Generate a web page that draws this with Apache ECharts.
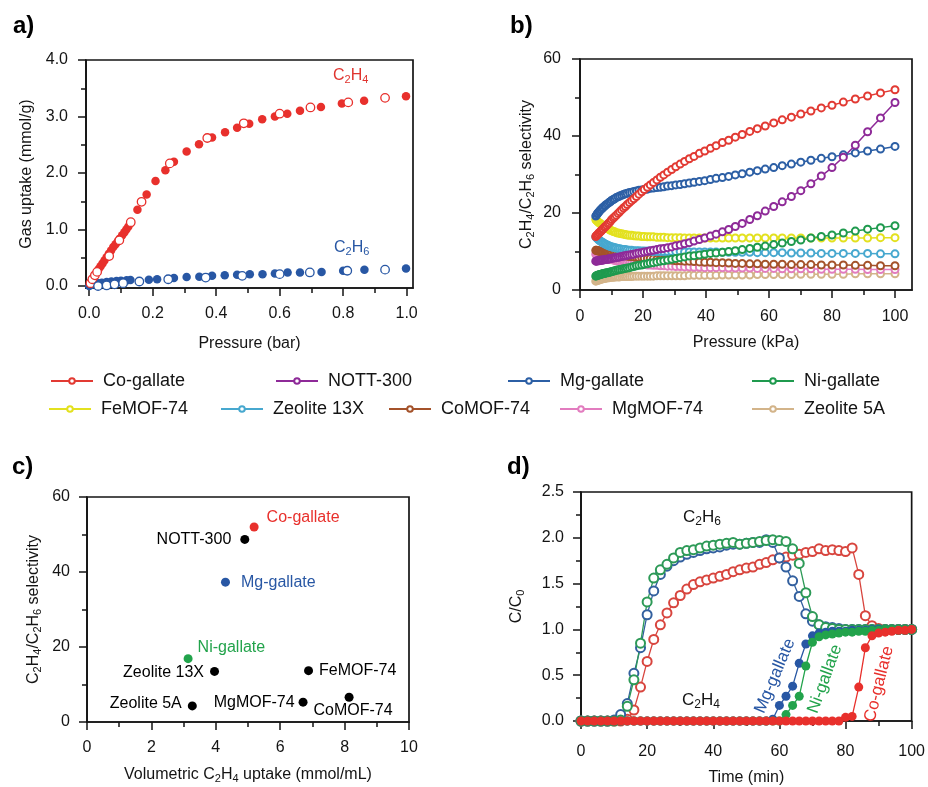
<!DOCTYPE html>
<html>
<head>
<meta charset="utf-8">
<title>Gallate frameworks: C2H4/C2H6 separation</title>
<script src="https://cdn.jsdelivr.net/npm/echarts@6/dist/echarts.min.js"></script>
<style>
  html, body { margin: 0; padding: 0; background: #ffffff; }
  #chart { width: 928px; height: 787px; }
</style>
</head>
<body>
<div id="chart"></div>
<script>
// ---------- a) Co-gallate single-component isotherms, [pressure (bar), uptake (mmol/g)] ----------
const c2h4Adsorption = [
  [0.003, 0.03], [0.008, 0.08], [0.013, 0.13], [0.018, 0.18], [0.024, 0.24], [0.030, 0.30],
  [0.036, 0.35], [0.042, 0.40], [0.048, 0.45], [0.055, 0.51], [0.062, 0.57], [0.069, 0.63],
  [0.076, 0.69], [0.083, 0.74], [0.090, 0.79], [0.097, 0.84], [0.104, 0.90], [0.111, 0.95],
  [0.117, 1.00], [0.123, 1.05], [0.129, 1.10], [0.152, 1.35], [0.181, 1.62], [0.209, 1.86],
  [0.240, 2.05], [0.267, 2.20], [0.307, 2.38], [0.346, 2.51], [0.387, 2.63], [0.428, 2.72],
  [0.466, 2.80], [0.504, 2.87], [0.545, 2.95], [0.585, 3.00], [0.624, 3.05], [0.664, 3.10],
  [0.730, 3.17], [0.796, 3.23], [0.866, 3.28], [0.998, 3.36]
];
const c2h4Desorption = [
  [0.004, 0.05], [0.010, 0.12], [0.018, 0.19], [0.025, 0.25], [0.063, 0.53], [0.095, 0.81],
  [0.131, 1.13], [0.165, 1.49], [0.254, 2.17], [0.372, 2.62], [0.487, 2.88], [0.600, 3.05],
  [0.697, 3.16], [0.816, 3.25], [0.932, 3.33]
];
const c2h6Adsorption = [
  [0.000, 0.00], [0.005, 0.02], [0.012, 0.03], [0.020, 0.04], [0.030, 0.05], [0.040, 0.06],
  [0.055, 0.07], [0.070, 0.08], [0.086, 0.09], [0.100, 0.095], [0.118, 0.10], [0.130, 0.105],
  [0.188, 0.11], [0.214, 0.12], [0.267, 0.14], [0.307, 0.16], [0.347, 0.165], [0.387, 0.18],
  [0.427, 0.19], [0.466, 0.20], [0.506, 0.21], [0.546, 0.21], [0.585, 0.22], [0.625, 0.24],
  [0.664, 0.24], [0.732, 0.25], [0.800, 0.27], [0.867, 0.29], [0.998, 0.31]
];
const c2h6Desorption = [
  [0.028, 0.00], [0.055, 0.01], [0.080, 0.03], [0.107, 0.05], [0.158, 0.08], [0.249, 0.12],
  [0.367, 0.15], [0.482, 0.18], [0.600, 0.21], [0.695, 0.24], [0.813, 0.27], [0.932, 0.29]
];

// ---------- b) IAST selectivity vs total pressure (kPa) ----------
const pressureKPa = [
  5.0, 5.2, 5.5, 5.7, 6.0, 6.2, 6.5, 6.8, 7.1, 7.4,
  7.8, 8.1, 8.5, 8.9, 9.3, 9.7, 10.1, 10.6, 11.0, 11.5,
  12.1, 12.6, 13.2, 13.8, 14.4, 15.0, 15.7, 16.4, 17.1, 17.9,
  18.7, 19.6, 20.4, 21.4, 22.3, 23.3, 24.4, 25.5, 26.6, 27.8,
  29.1, 30.4, 31.8, 33.2, 34.7, 36.2, 37.9, 39.6, 41.4, 43.2,
  45.2, 47.2, 49.3, 51.5, 53.9, 56.3, 58.8, 61.5, 64.2, 67.1,
  70.1, 73.3, 76.6, 80.0, 83.6, 87.4, 91.3, 95.4, 100
];
const selCoGallate = [
  13.9, 14.1, 14.3, 14.5, 14.8, 14.9, 15.2, 15.4, 15.7, 15.9,
  16.3, 16.5, 16.8, 17.2, 17.5, 17.9, 18.3, 18.7, 19.0, 19.4,
  19.9, 20.3, 20.8, 21.3, 21.7, 22.2, 22.7, 23.2, 23.7, 24.3,
  24.9, 25.5, 26.1, 26.7, 27.3, 27.9, 28.6, 29.3, 29.9, 30.6,
  31.3, 32.0, 32.7, 33.4, 34.1, 34.7, 35.5, 36.1, 36.8, 37.5,
  38.3, 38.9, 39.7, 40.4, 41.2, 41.9, 42.6, 43.4, 44.2, 44.9,
  45.7, 46.5, 47.3, 48.0, 48.8, 49.6, 50.4, 51.2, 52.0
];
const selMgGallate = [
  19.2, 19.4, 19.8, 20.0, 20.3, 20.5, 20.8, 21.0, 21.3, 21.5,
  21.8, 22.0, 22.3, 22.5, 22.8, 23.0, 23.3, 23.5, 23.7, 24.0,
  24.2, 24.4, 24.6, 24.8, 25.0, 25.1, 25.3, 25.4, 25.6, 25.7,
  25.9, 26.0, 26.1, 26.2, 26.4, 26.5, 26.6, 26.7, 26.8, 27.0,
  27.1, 27.3, 27.4, 27.6, 27.8, 28.0, 28.2, 28.4, 28.7, 29.0,
  29.2, 29.5, 29.9, 30.2, 30.6, 31.0, 31.4, 31.8, 32.3, 32.7,
  33.2, 33.7, 34.2, 34.6, 35.1, 35.6, 36.1, 36.6, 37.3
];
const selNott300 = [
  7.5, 7.5, 7.6, 7.6, 7.6, 7.7, 7.7, 7.7, 7.8, 7.8,
  7.9, 7.9, 8.0, 8.0, 8.1, 8.2, 8.2, 8.3, 8.4, 8.4,
  8.5, 8.6, 8.7, 8.8, 8.9, 9.0, 9.1, 9.2, 9.3, 9.5,
  9.6, 9.7, 9.9, 10.0, 10.2, 10.3, 10.5, 10.7, 10.8, 11.0,
  11.2, 11.5, 11.7, 12.0, 12.3, 12.7, 13.1, 13.5, 14.0, 14.5,
  15.1, 15.7, 16.5, 17.3, 18.3, 19.3, 20.5, 21.7, 22.9, 24.3,
  25.8, 27.6, 29.6, 31.8, 34.5, 37.6, 41.1, 44.7, 48.7
];
const selFeMof74 = [
  18.3, 18.1, 17.9, 17.7, 17.5, 17.4, 17.2, 17.0, 16.8, 16.6,
  16.4, 16.2, 16.0, 15.9, 15.7, 15.5, 15.4, 15.2, 15.1, 14.9,
  14.8, 14.7, 14.6, 14.5, 14.4, 14.3, 14.2, 14.2, 14.1, 14.0,
  14.0, 13.9, 13.9, 13.8, 13.8, 13.8, 13.7, 13.7, 13.7, 13.6,
  13.6, 13.6, 13.6, 13.5, 13.5, 13.5, 13.5, 13.5, 13.5, 13.5,
  13.5, 13.5, 13.5, 13.5, 13.5, 13.5, 13.5, 13.5, 13.5, 13.5,
  13.5, 13.5, 13.5, 13.5, 13.5, 13.5, 13.5, 13.6, 13.6
];
const selZeolite13X = [
  13.8, 13.6, 13.4, 13.2, 13.0, 12.9, 12.7, 12.5, 12.4, 12.2,
  12.0, 11.9, 11.7, 11.6, 11.4, 11.3, 11.2, 11.1, 11.0, 10.9,
  10.8, 10.7, 10.6, 10.5, 10.5, 10.4, 10.3, 10.3, 10.2, 10.2,
  10.2, 10.1, 10.1, 10.1, 10.1, 10.0, 10.0, 10.0, 10.0, 10.0,
  10.0, 10.0, 10.0, 9.9, 9.9, 9.9, 9.9, 9.9, 9.9, 9.9,
  9.8, 9.8, 9.8, 9.8, 9.8, 9.7, 9.7, 9.7, 9.7, 9.6,
  9.6, 9.6, 9.5, 9.5, 9.5, 9.5, 9.5, 9.4, 9.4
];
const selNiGallate = [
  3.6, 3.7, 3.8, 3.8, 3.9, 4.0, 4.0, 4.1, 4.2, 4.3,
  4.3, 4.4, 4.5, 4.5, 4.6, 4.7, 4.8, 4.9, 5.0, 5.1,
  5.2, 5.3, 5.4, 5.5, 5.6, 5.7, 5.8, 6.0, 6.1, 6.3,
  6.4, 6.5, 6.7, 6.8, 7.0, 7.1, 7.3, 7.5, 7.6, 7.8,
  8.0, 8.2, 8.4, 8.6, 8.8, 8.9, 9.1, 9.3, 9.5, 9.6,
  9.8, 10.0, 10.2, 10.5, 10.8, 11.1, 11.4, 11.8, 12.2, 12.6,
  13.0, 13.5, 13.9, 14.3, 14.8, 15.3, 15.8, 16.2, 16.7
];
const selCoMof74 = [
  10.3, 10.3, 10.2, 10.2, 10.1, 10.1, 10.0, 10.0, 9.9, 9.8,
  9.8, 9.7, 9.6, 9.6, 9.5, 9.4, 9.4, 9.3, 9.3, 9.2,
  9.1, 9.1, 9.0, 8.9, 8.9, 8.8, 8.7, 8.7, 8.6, 8.5,
  8.4, 8.4, 8.3, 8.2, 8.2, 8.1, 8.0, 8.0, 7.9, 7.8,
  7.7, 7.6, 7.6, 7.5, 7.5, 7.4, 7.3, 7.2, 7.2, 7.1,
  7.1, 7.0, 6.9, 6.9, 6.8, 6.8, 6.7, 6.7, 6.7, 6.6,
  6.6, 6.6, 6.5, 6.5, 6.5, 6.4, 6.4, 6.3, 6.3
];
const selMgMof74 = [
  9.3, 9.2, 9.1, 9.0, 8.9, 8.9, 8.8, 8.7, 8.6, 8.5,
  8.4, 8.3, 8.2, 8.1, 8.0, 8.0, 7.9, 7.8, 7.7, 7.6,
  7.5, 7.5, 7.4, 7.3, 7.2, 7.1, 7.0, 7.0, 6.9, 6.8,
  6.7, 6.7, 6.6, 6.5, 6.5, 6.4, 6.4, 6.3, 6.3, 6.2,
  6.2, 6.1, 6.1, 6.0, 6.0, 5.9, 5.9, 5.8, 5.8, 5.8,
  5.8, 5.7, 5.7, 5.7, 5.7, 5.6, 5.6, 5.6, 5.5, 5.5,
  5.5, 5.5, 5.4, 5.4, 5.4, 5.4, 5.3, 5.3, 5.3
];
const selZeolite5A = [
  2.3, 2.4, 2.5, 2.5, 2.6, 2.7, 2.8, 2.8, 2.9, 3.0,
  3.0, 3.1, 3.1, 3.2, 3.2, 3.3, 3.3, 3.3, 3.4, 3.4,
  3.4, 3.4, 3.5, 3.5, 3.5, 3.5, 3.5, 3.5, 3.6, 3.6,
  3.6, 3.6, 3.6, 3.6, 3.6, 3.6, 3.7, 3.7, 3.7, 3.7,
  3.7, 3.7, 3.7, 3.7, 3.8, 3.8, 3.8, 3.8, 3.8, 3.8,
  3.9, 3.9, 3.9, 3.9, 3.9, 4.0, 4.0, 4.0, 4.0, 4.0,
  4.1, 4.1, 4.1, 4.1, 4.1, 4.2, 4.2, 4.2, 4.2
];

// ---------- c) selectivity at 100 kPa vs volumetric C2H4 uptake ----------
const materials   = ['Co-gallate', 'NOTT-300', 'Mg-gallate', 'Ni-gallate', 'Zeolite 13X', 'FeMOF-74', 'MgMOF-74', 'CoMOF-74', 'Zeolite 5A'];
const volUptake   = [5.19, 4.90, 4.30, 3.14, 3.96, 6.88, 6.71, 8.14, 3.27];
const selectivity = [52.0, 48.7, 37.3, 16.9, 13.5, 13.7, 5.3, 6.6, 4.3];

// ---------- d) breakthrough curves, C/C0 vs time (min) ----------
const timeMin = [
  0, 2, 4, 6, 8, 10, 12, 14, 16, 18,
  20, 22, 24, 26, 28, 30, 32, 34, 36, 38,
  40, 42, 44, 46, 48, 50, 52, 54, 56, 58,
  60, 62, 64, 66, 68, 70, 72, 74, 76, 78,
  80, 82, 84, 86, 88, 90, 92, 94, 96, 98,
  100
];
const coGallateC2H6 = [
  0, 0, 0, 0, 0, 0, 0, 0.02, 0.12, 0.37,
  0.65, 0.89, 1.05, 1.18, 1.29, 1.37, 1.44, 1.49, 1.52, 1.54,
  1.56, 1.58, 1.60, 1.63, 1.65, 1.67, 1.68, 1.71, 1.73, 1.76,
  1.78, 1.79, 1.81, 1.82, 1.84, 1.85, 1.88, 1.86, 1.87, 1.86,
  1.85, 1.89, 1.60, 1.15, 1.04, 1.01, 1.00, 1.00, 1.00, 1.00,
  1.00
];
const mgGallateC2H6 = [
  0, 0, 0, 0, 0, 0.01, 0.07, 0.19, 0.52, 0.80,
  1.16, 1.42, 1.60, 1.69, 1.75, 1.79, 1.82, 1.84, 1.86, 1.88,
  1.89, 1.90, 1.92, 1.93, 1.93, 1.94, 1.95, 1.95, 1.98, 1.95,
  1.78, 1.68, 1.53, 1.36, 1.17, 1.09, 1.05, 1.03, 1.02, 1.01,
  1.00, 1.00, 1.00, 1.00, 1.00, 1.00, 1.00, 1.00, 1.00, 1.00,
  1.00
];
const niGallateC2H6 = [
  0, 0, 0, 0, 0, 0, 0.01, 0.16, 0.45, 0.85,
  1.30, 1.56, 1.65, 1.71, 1.78, 1.84, 1.86, 1.87, 1.89, 1.91,
  1.92, 1.93, 1.94, 1.95, 1.93, 1.94, 1.95, 1.96, 1.97, 1.98,
  1.97, 1.96, 1.88, 1.72, 1.40, 1.14, 1.05, 1.02, 1.01, 1.00,
  1.00, 1.00, 1.00, 1.00, 1.00, 1.00, 1.00, 1.00, 1.00, 1.00,
  1.00
];
const mgGallateC2H4 = [
  0, 0, 0, 0, 0, 0, 0, 0, 0, 0,
  0, 0, 0, 0, 0, 0, 0, 0, 0, 0,
  0, 0, 0, 0, 0, 0, 0, 0, 0, 0.02,
  0.17, 0.27, 0.38, 0.63, 0.84, 0.93, 0.96, 0.97, 0.98, 0.98,
  0.98, 0.99, 0.99, 0.99, 1.00, 1.00, 1.00, 1.00, 1.00, 1.00,
  1.00
];
const niGallateC2H4 = [
  0, 0, 0, 0, 0, 0, 0, 0, 0, 0,
  0, 0, 0, 0, 0, 0, 0, 0, 0, 0,
  0, 0, 0, 0, 0, 0, 0, 0, 0, 0,
  0, 0.07, 0.17, 0.27, 0.60, 0.86, 0.92, 0.94, 0.95, 0.96,
  0.97, 0.97, 0.98, 0.98, 0.99, 0.99, 1.00, 1.00, 1.00, 1.00,
  1.00
];
const coGallateC2H4 = [
  0, 0, 0, 0, 0, 0, 0, 0, 0, 0,
  0, 0, 0, 0, 0, 0, 0, 0, 0, 0,
  0, 0, 0, 0, 0, 0, 0, 0, 0, 0,
  0, 0, 0, 0, 0, 0, 0, 0, 0, 0,
  0.04, 0.05, 0.37, 0.80, 0.93, 0.96, 0.97, 0.98, 0.99, 0.99,
  1.00
];

// ---------- shared styling ----------
const FONT = '"Liberation Sans", Arial, Helvetica, sans-serif';
const INK = '#141414';
const RED = '#e8302c';
const BLUE = '#2857a4';
const GREEN = '#22a34b';
const SUB = { fontSize: 11, fontFamily: FONT, color: INK, padding: [8, 0, 0, 0] };

function pairs(xs, ys) { return xs.map((x, i) => [x, ys[i]]); }

// main axis (line, labels, long ticks) + companion axis carrying the short minor ticks
function axisPair(dim, gridIndex, range, labelVals, majorVals, minorVals, fmt, margin, name, nameGap) {
  const base = {
    type: 'value', gridIndex, min: range[0], max: range[1],
    position: dim === 'x' ? 'bottom' : 'left',
    splitLine: { show: false }
  };
  const main = Object.assign({}, base, {
    axisLine: { show: true, onZero: false, lineStyle: { color: INK, width: 1.7 } },
    axisTick: { show: true, customValues: majorVals, length: 8, lineStyle: { color: INK, width: 1.5 } },
    axisLabel: { show: true, customValues: labelVals, formatter: fmt, margin, color: INK, fontSize: 16, fontFamily: FONT },
    name, nameLocation: 'middle', nameGap,
    nameTextStyle: { color: INK, fontSize: 16, fontFamily: FONT, rich: { s: SUB } }
  });
  const minor = Object.assign({}, base, {
    axisLine: { show: false, onZero: false },
    axisTick: { show: true, customValues: minorVals, length: 5, lineStyle: { color: INK, width: 1.5 } },
    axisLabel: { show: false }
  });
  return [main, minor];
}

const fix1 = v => v.toFixed(1);
const plain = v => String(v);

const xAxes = [].concat(
  axisPair('x', 0, [-0.01, 1.02], [0, 0.2, 0.4, 0.6, 0.8, 1.0], [0, 0.2, 0.4, 0.6, 0.8, 1.0],
           [0.1, 0.3, 0.5, 0.7, 0.9], fix1, 18, 'Pressure (bar)', 48),
  axisPair('x', 1, [0, 105.4], [0, 20, 40, 60, 80, 100], [0, 20, 40, 60, 80, 100],
           [10, 30, 50, 70, 90], plain, 19, 'Pressure (kPa)', 45),
  axisPair('x', 2, [0, 10], [0, 2, 4, 6, 8, 10], [0, 2, 4, 6, 8, 10],
           [1, 3, 5, 7, 9], plain, 18, 'Volumetric C{s|2}H{s|4} uptake (mmol/mL)', 43),
  axisPair('x', 3, [0, 100], [0, 20, 40, 60, 80, 100], [0, 20, 40, 60, 80, 100],
           [10, 30, 50, 70, 90], plain, 23, 'Time (min)', 49)
);
const yAxes = [].concat(
  axisPair('y', 0, [-0.035, 4.0], [0, 1, 2, 3, 4], [0, 1, 2, 3, 4],
           [0.5, 1.5, 2.5, 3.5], fix1, 18, 'Gas uptake (mmol/g)', 51),
  axisPair('y', 1, [0, 60], [0, 20, 40, 60], [0, 20, 40, 60],
           [10, 30, 50], plain, 19, 'C{s|2}H{s|4}/C{s|2}H{s|6} selectivity', 44),
  axisPair('y', 2, [0, 60], [0, 20, 40, 60], [0, 20, 40, 60],
           [10, 30, 50], plain, 17, 'C{s|2}H{s|4}/C{s|2}H{s|6} selectivity', 44),
  axisPair('y', 3, [0, 2.5], [0, 0.5, 1.0, 1.5, 2.0, 2.5], [0, 0.5, 1.0, 1.5, 2.0, 2.5],
           [0.25, 0.75, 1.25, 1.75, 2.25], fix1, 17, 'C/C{s|0}', 55)
);

// ---------- series ----------
const series = [];

// a) isotherms: filled = adsorption, open = desorption
function isotherm(name, data, color, open) {
  return {
    name, type: 'scatter', xAxisIndex: 0, yAxisIndex: 0, data,
    symbol: 'circle', symbolSize: 8.5, z: open ? 4 : 3,
    itemStyle: open ? { color: '#ffffff', borderColor: color, borderWidth: 1.3, opacity: 1 } : { color, opacity: 1 }
  };
}
series.push(isotherm('C2H4 adsorption', c2h4Adsorption, RED, false));
series.push(isotherm('C2H6 adsorption', c2h6Adsorption, BLUE, false));
series.push(isotherm('C2H4 desorption', c2h4Desorption, RED, true));
series.push(isotherm('C2H6 desorption', c2h6Desorption, BLUE, true));

// b) selectivity curves (drawn back to front)
const selectivitySets = [
  ['Zeolite 5A', selZeolite5A, '#d3b48a'],
  ['MgMOF-74', selMgMof74, '#e27cbf'],
  ['CoMOF-74', selCoMof74, '#a4522a'],
  ['Zeolite 13X', selZeolite13X, '#47a8cf'],
  ['FeMOF-74', selFeMof74, '#e3e11f'],
  ['Ni-gallate', selNiGallate, '#1f9a4e'],
  ['Mg-gallate', selMgGallate, '#2c5fa5'],
  ['NOTT-300', selNott300, '#8e2a98'],
  ['Co-gallate', selCoGallate, '#e23a33']
];
selectivitySets.forEach(([name, vals, color]) => {
  series.push({
    name, type: 'line', xAxisIndex: 2, yAxisIndex: 2,
    data: pairs(pressureKPa, vals), color,
    symbol: 'emptyCircle', symbolSize: 7, showAllSymbol: true,
    lineStyle: { width: 1.5, color },
    itemStyle: { color, borderWidth: 1.1 }
  });
});

// c) selectivity vs volumetric uptake, each point labelled with its material
const pointColors = [RED, '#000000', BLUE, GREEN, '#000000', '#000000', '#000000', '#000000', '#000000'];
const labelPlacement = [
  { position: 'right', distance: 8, offset: [0, -9] },
  { position: 'left', distance: 9, offset: [0, 0] },
  { position: 'right', distance: 11, offset: [0, 0] },
  { position: 'right', distance: 5, offset: [0, -11] },
  { position: 'left', distance: 6, offset: [0, 1] },
  { position: 'right', distance: 6, offset: [0, 0] },
  { position: 'left', distance: 4, offset: [0, 0] },
  { position: 'bottom', distance: 0, offset: [4, 1] },
  { position: 'left', distance: 6, offset: [0, -2] }
];
series.push({
  name: 'selectivity vs uptake', type: 'scatter', xAxisIndex: 4, yAxisIndex: 4,
  symbol: 'circle', symbolSize: 9,
  data: materials.map((m, i) => ({
    name: m, value: [volUptake[i], selectivity[i]],
    itemStyle: { color: pointColors[i], opacity: 1 },
    label: Object.assign({ show: true, formatter: '{b}', color: pointColors[i], fontSize: 16, fontFamily: FONT }, labelPlacement[i])
  }))
});

// d) breakthrough curves: open = C2H6, filled = C2H4
function breakthrough(name, vals, color, open) {
  return {
    name, type: 'line', xAxisIndex: 6, yAxisIndex: 6,
    data: pairs(timeMin, vals), color,
    symbol: open ? 'emptyCircle' : 'circle', symbolSize: 9, showAllSymbol: true,
    lineStyle: { width: 1.3, color },
    itemStyle: { color, borderWidth: 1.1, opacity: 1 }
  };
}
series.push(breakthrough('Co-gallate C2H6 outlet', coGallateC2H6, '#d8453e', true));
series.push(breakthrough('Mg-gallate C2H6 outlet', mgGallateC2H6, '#33609f', true));
series.push(breakthrough('Ni-gallate C2H6 outlet', niGallateC2H6, '#2d9a57', true));
series.push(breakthrough('Mg-gallate C2H4 outlet', mgGallateC2H4, BLUE, false));
series.push(breakthrough('Ni-gallate C2H4 outlet', niGallateC2H4, GREEN, false));
series.push(breakthrough('Co-gallate C2H4 outlet', coGallateC2H4, RED, false));

// ---------- legend for panel b, laid out in two rows ----------
const legendSlots = [
  ['Co-gallate', 50, 372], ['NOTT-300', 275, 372], ['Mg-gallate', 507, 372], ['Ni-gallate', 751, 372],
  ['FeMOF-74', 48, 400], ['Zeolite 13X', 220, 400], ['CoMOF-74', 388, 400], ['MgMOF-74', 559, 400], ['Zeolite 5A', 751, 400]
];
const legends = legendSlots.map(([name, left, top]) => ({
  data: [name], left, top, padding: 0, itemWidth: 42, itemHeight: 7, selectedMode: false,
  textStyle: { fontSize: 18, fontFamily: FONT, color: INK, padding: [0, 0, 0, 5] }
}));

// ---------- panel letters and in-plot annotations ----------
function formula(text, left, top, color, size) {
  return {
    type: 'text', left, top, z: 10,
    style: {
      text, fill: color, fontSize: size, fontFamily: FONT,
      rich: { s: { fontSize: Math.round(size * 0.68), fontFamily: FONT, fill: color, padding: [8, 0, 0, 0] } }
    }
  };
}
function letter(text, left, top) {
  return { type: 'text', left, top, style: { text, fill: '#000', fontSize: 24, fontWeight: 'bold', fontFamily: FONT } };
}
function slanted(text, x, y, deg, color) {
  return {
    type: 'text', x, y, rotation: deg * Math.PI / 180, z: 10,
    style: { text, fill: color, fontSize: 17, fontFamily: FONT, align: 'center', verticalAlign: 'middle' }
  };
}
const graphics = [
  letter('a)', 13, 14), letter('b)', 510, 14), letter('c)', 12, 455), letter('d)', 507, 455),
  formula('C{s|2}H{s|4}', 333, 68, '#e0342f', 16),
  formula('C{s|2}H{s|6}', 334, 240, BLUE, 16),
  formula('C{s|2}H{s|6}', 683, 509, INK, 17),
  formula('C{s|2}H{s|4}', 682, 692, INK, 17),
  slanted('Mg-gallate', 775, 676, 67, BLUE),
  slanted('Ni-gallate', 825, 679, 70, GREEN),
  slanted('Co-gallate', 879, 684, 76, RED)
];

const chart = echarts.init(document.getElementById('chart'), null, { renderer: 'canvas' });
chart.setOption({
  animation: false,
  backgroundColor: '#ffffff',
  textStyle: { fontFamily: FONT },
  grid: [
    { left: 86, top: 60, width: 327, height: 228, show: true, borderColor: INK, borderWidth: 1.7, backgroundColor: 'transparent' },
    { left: 580, top: 59, width: 332, height: 231, show: true, borderColor: INK, borderWidth: 1.7, backgroundColor: 'transparent' },
    { left: 87, top: 497, width: 322, height: 225, show: true, borderColor: INK, borderWidth: 1.7, backgroundColor: 'transparent' },
    { left: 581, top: 492, width: 332, height: 229, show: true, borderColor: INK, borderWidth: 1.7, backgroundColor: 'transparent' }
  ],
  xAxis: xAxes,
  yAxis: yAxes,
  legend: legends,
  series,
  graphic: graphics
});
</script>
</body>
</html>
